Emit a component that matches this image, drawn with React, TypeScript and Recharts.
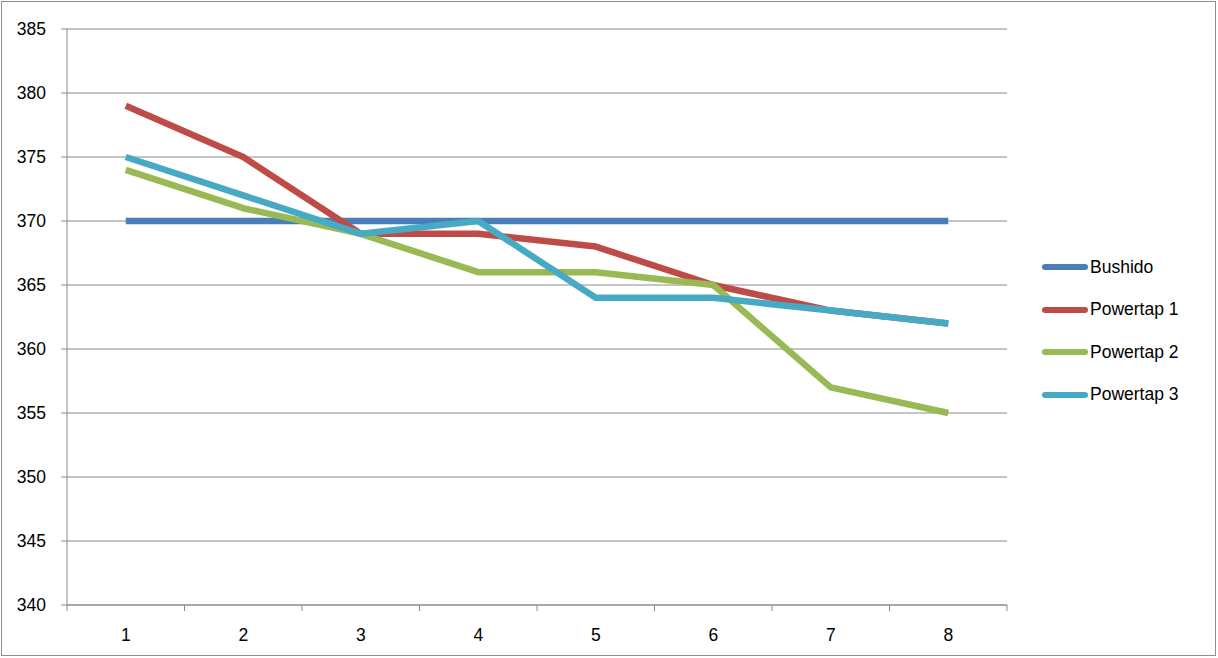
import { LineChart, Line, XAxis, YAxis, CartesianGrid } from "recharts";

const categories = [1, 2, 3, 4, 5, 6, 7, 8];
const bushido = [370, 370, 370, 370, 370, 370, 370, 370];
const powertap1 = [379, 375, 369, 369, 368, 365, 363, 362];
const powertap2 = [374, 371, 369, 366, 366, 365, 357, 355];
const powertap3 = [375, 372, 369, 370, 364, 364, 363, 362];
const yTicks = [340, 345, 350, 355, 360, 365, 370, 375, 380, 385];
const bandEdges = [0.5, 1.5, 2.5, 3.5, 4.5, 5.5, 6.5, 7.5, 8.5];

const series = [
  { key: "bushido", name: "Bushido", color: "#4a7ebb" },
  { key: "p1", name: "Powertap 1", color: "#be4b48" },
  { key: "p2", name: "Powertap 2", color: "#98b954" },
  { key: "p3", name: "Powertap 3", color: "#46aac5" },
];

const data = categories.map((c, i) => ({
  x: c,
  bushido: bushido[i],
  p1: powertap1[i],
  p2: powertap2[i],
  p3: powertap3[i],
}));

const FONT = "'Liberation Sans', Arial, sans-serif";
const AXIS = "#8a8a8a";

const NoLabel = () => <g />;

// legend with fat line swatches, like the spreadsheet
const LegendBox = () => (
  <div
    style={{
      position: "absolute",
      left: 1042,
      top: 246,
      fontFamily: FONT,
      fontSize: 17.5,
      color: "#000",
    }}
  >
    {series.map((s) => (
      <div key={s.key} style={{ display: "flex", alignItems: "center", height: 42.5 }}>
        <span
          style={{
            display: "inline-block",
            width: 46,
            height: 6,
            borderRadius: 3,
            background: s.color,
            marginRight: 2,
          }}
        />
        <span>{s.name}</span>
      </div>
    ))}
  </div>
);

export default function App() {
  return (
    <div style={{ position: "fixed", left: 0, top: 0, width: 1218, height: 658, background: "#fff" }}>
      <div
        style={{
          position: "absolute",
          left: 1,
          top: 1,
          width: 1215,
          height: 655,
          boxSizing: "border-box",
          border: "1px solid #8e8e8e",
        }}
      />
      <LineChart
        width={1218}
        height={658}
        data={data}
        margin={{ top: 29, right: 211, left: 0, bottom: 24 }}
        style={{ position: "absolute", left: 0, top: 0 }}
      >
        <CartesianGrid horizontal vertical={false} stroke={AXIS} strokeWidth={1} />
        <XAxis
          xAxisId="b"
          type="number"
          dataKey="x"
          domain={[0.5, 8.5]}
          ticks={categories}
          tickLine={false}
          axisLine={false}
          tickMargin={17}
          height={28}
          tick={{ fill: "#000", fontSize: 17.5, fontFamily: FONT }}
        />
        <XAxis
          xAxisId="a"
          type="number"
          dataKey="x"
          domain={[0.5, 8.5]}
          ticks={bandEdges}
          tick={<NoLabel />}
          tickSize={6}
          height={1}
          stroke={AXIS}
          allowDataOverflow
        />
        <YAxis
          type="number"
          domain={[340, 385]}
          ticks={yTicks}
          width={67}
          tickSize={6}
          tickMargin={15}
          stroke={AXIS}
          tick={{ fill: "#000", fontSize: 17.5, fontFamily: FONT }}
        />
        {series.map((s) => (
          <Line
            key={s.key}
            xAxisId="b"
            type="linear"
            dataKey={s.key}
            name={s.name}
            stroke={s.color}
            strokeWidth={6.5}
            strokeLinejoin="round"
            dot={false}
            activeDot={false}
            isAnimationActive={false}
          />
        ))}
      </LineChart>
      <LegendBox />
    </div>
  );
}
